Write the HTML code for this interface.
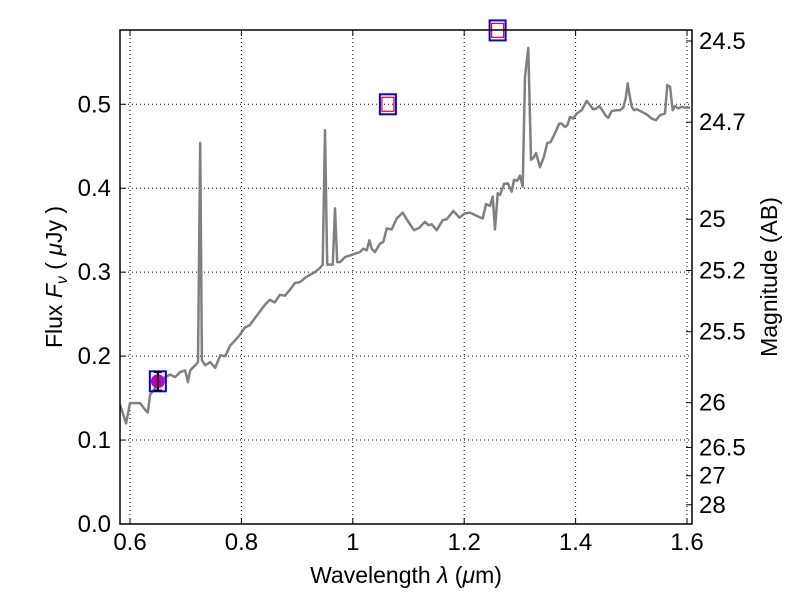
<!DOCTYPE html>
<html><head><meta charset="utf-8"><style>
body{margin:0;background:#fff;width:800px;height:600px;overflow:hidden}
svg text{font-family:"Liberation Sans","DejaVu Sans",sans-serif;fill:#000}
</style></head><body>
<svg id="chart" width="800" height="600" xmlns="http://www.w3.org/2000/svg">
<rect width="800" height="600" fill="#fff"/>
<g id="grid"></g>
<g id="plot"></g>
<g id="axes"></g>
<text x="406" y="583" font-size="23" text-anchor="middle">Wavelength  <tspan font-style="italic">λ</tspan> (<tspan font-style="italic">μ</tspan>m)</text>
<text transform="translate(62,277) rotate(-90)" font-size="23" text-anchor="middle">Flux  <tspan font-style="italic">F<tspan font-size="16" dy="5">ν</tspan></tspan><tspan dy="-5">  ( </tspan><tspan font-style="italic">μ</tspan>Jy )</text>
<text transform="translate(777,277) rotate(-90)" font-size="23" text-anchor="middle">Magnitude (AB)</text>
</svg>
<script>
const specLambda=[0.582,0.593,0.600,0.618,0.627,0.632,0.636,0.645,0.654,0.663,0.672,0.681,0.690,0.699,0.704,0.708,0.717,0.722,0.726,0.729,0.735,0.744,0.753,0.762,0.771,0.780,0.789,0.797,0.806,0.815,0.824,0.833,0.842,0.851,0.860,0.869,0.878,0.887,0.896,0.905,0.914,0.923,0.932,0.941,0.946,0.950,0.954,0.964,0.968,0.972,0.977,0.986,0.995,1.0129,1.0189,1.0249,1.0297,1.0339,1.0399,1.0488,1.0548,1.0608,1.0698,1.0788,1.0895,1.0997,1.1099,1.1194,1.1296,1.1356,1.1416,1.1506,1.1614,1.1685,1.1805,1.1913,1.2014,1.2104,1.2224,1.2332,1.2392,1.2463,1.2511,1.2553,1.2601,1.2643,1.2715,1.2781,1.2853,1.2894,1.2954,1.3002,1.3050,1.3092,1.3151,1.3199,1.3241,1.3289,1.3361,1.3433,1.3492,1.3552,1.3612,1.3708,1.3750,1.3810,1.3852,1.3900,1.3959,1.4019,1.4109,1.4199,1.4259,1.4318,1.4378,1.4426,1.4468,1.4546,1.4588,1.4648,1.4738,1.4797,1.4857,1.4899,1.4935,1.4965,1.5007,1.5048,1.5096,1.5186,1.5276,1.5366,1.5443,1.5515,1.5605,1.5647,1.5695,1.5743,1.5785,1.5844,1.5904,1.5964,1.6054];
const specFlux=[0.142,0.120,0.144,0.144,0.136,0.133,0.154,0.162,0.169,0.175,0.178,0.175,0.181,0.183,0.169,0.183,0.189,0.193,0.454,0.195,0.189,0.193,0.186,0.201,0.200,0.213,0.219,0.225,0.234,0.237,0.245,0.253,0.261,0.267,0.264,0.273,0.272,0.279,0.287,0.288,0.293,0.297,0.300,0.305,0.309,0.469,0.309,0.309,0.376,0.312,0.312,0.318,0.320,0.324,0.328,0.326,0.338,0.328,0.324,0.334,0.336,0.352,0.351,0.364,0.371,0.360,0.350,0.353,0.360,0.356,0.357,0.350,0.362,0.363,0.373,0.365,0.370,0.371,0.367,0.364,0.381,0.379,0.390,0.351,0.394,0.392,0.405,0.406,0.396,0.410,0.409,0.415,0.402,0.533,0.567,0.434,0.436,0.442,0.425,0.438,0.454,0.455,0.463,0.477,0.477,0.473,0.475,0.485,0.483,0.489,0.493,0.504,0.499,0.494,0.495,0.498,0.494,0.486,0.484,0.492,0.493,0.493,0.496,0.507,0.525,0.513,0.497,0.493,0.494,0.491,0.488,0.483,0.481,0.487,0.489,0.523,0.521,0.493,0.498,0.495,0.497,0.496,0.496];
const photLambda=[0.65,1.063,1.26];
const photFlux=[0.17,0.5,0.588];
const photErr=[0.011,0,0];
const xTicks=[0.6,0.8,1.0,1.2,1.4,1.6];
const xTickLabels=["0.6","0.8","1","1.2","1.4","1.6"];
const yTicks=[0,0.1,0.2,0.3,0.4,0.5];
const yTickLabels=["0.0","0.1","0.2","0.3","0.4","0.5"];
const magTicks=[24.5,24.7,25,25.2,25.5,26,26.5,27,28];
const magTickLabels=["24.5","24.7","25","25.2","25.5","26","26.5","27","28"];

const L=120,R=692,T=30,B=524;
const xMin=0.582,xMax=1.609,yMin=0,yMax=0.5885;
const sx=v=>L+(v-xMin)/(xMax-xMin)*(R-L);
const sy=v=>B-(v-yMin)/(yMax-yMin)*(B-T);
const NS="http://www.w3.org/2000/svg";
function mk(tag,attrs,parent){const e=document.createElementNS(NS,tag);for(const k in attrs)e.setAttribute(k,attrs[k]);parent.appendChild(e);return e;}
const grid=document.getElementById('grid'),plot=document.getElementById('plot'),axes=document.getElementById('axes');

xTicks.forEach((t,i)=>{
  const g=mk('line',{x1:sx(t),x2:sx(t),y1:T,y2:B,stroke:'#000','stroke-width':1,'stroke-dasharray':'1,3'},grid);
  
  
  mk('line',{x1:sx(t),x2:sx(t),y1:B,y2:B-6,stroke:'#000'},axes);
  mk('line',{x1:sx(t),x2:sx(t),y1:T,y2:T+6,stroke:'#000'},axes);
  const tx=mk('text',{x:sx(t),y:B+26,'font-size':24,'text-anchor':'middle'},axes);
  tx.textContent=xTickLabels[i];
  
  
});
yTicks.forEach((t,i)=>{
  const g=mk('line',{x1:L,x2:R,y1:sy(t),y2:sy(t),stroke:'#000','stroke-width':1,'stroke-dasharray':'1,3'},grid);
  
  
  mk('line',{x1:L,x2:L+6,y1:sy(t),y2:sy(t),stroke:'#000'},axes);
  const tx=mk('text',{x:L-9,y:sy(t)+8,'font-size':24,'text-anchor':'end'},axes);
  tx.textContent=yTickLabels[i];
  
  
});
magTicks.forEach((m,i)=>{
  const f=Math.pow(10,-(m-23.9)/2.5);
  const y=sy(f);
  mk('line',{x1:R,x2:R-6,y1:y,y2:y,stroke:'#000'},axes);
  const tx=mk('text',{x:R+7,y:y+8,'font-size':24},axes);
  tx.textContent=magTickLabels[i];
  
  
});

const clip=mk('clipPath',{id:'clp'},plot);
mk('rect',{x:L,y:T,width:R-L,height:B-T},clip);
const pg=mk('g',{'clip-path':'url(#clp)'},plot);
const pts=specLambda.map((l,i)=>sx(l).toFixed(1)+','+sy(specFlux[i]).toFixed(1)).join(' ');
const line=mk('polyline',{points:pts,fill:'none',stroke:'#808080','stroke-width':2.5,'stroke-linejoin':'round'},pg);



photLambda.forEach((l,i)=>{
  const x=sx(l),y=sy(photFlux[i]);
  const b=mk('rect',{x:x-8,y:y-10,width:16,height:20,fill:'none',stroke:'#0000ff','stroke-width':2},plot);
  
  
  if(i===0){
    const c=mk('circle',{cx:x,cy:y,r:7,fill:'#bf00bf'},plot);
    
    
    const e1=sy(photFlux[i]+photErr[i]),e2=sy(photFlux[i]-photErr[i]);
    mk('line',{x1:x,x2:x,y1:e1,y2:e2,stroke:'#000','stroke-width':2},plot);
    mk('line',{x1:x-4,x2:x+4,y1:e1,y2:e1,stroke:'#000','stroke-width':2},plot);
    mk('line',{x1:x-4,x2:x+4,y1:e2,y2:e2,stroke:'#000','stroke-width':2},plot);
  } else {
    const r=mk('rect',{x:x-6,y:y-7,width:12,height:14,fill:'none',stroke:'#ff0000','stroke-width':1.2},plot);
    
    
  }
});
mk('rect',{x:L,y:T,width:R-L,height:B-T,fill:'none',stroke:'#000','stroke-width':1.5},axes);
</script>
</body></html>
